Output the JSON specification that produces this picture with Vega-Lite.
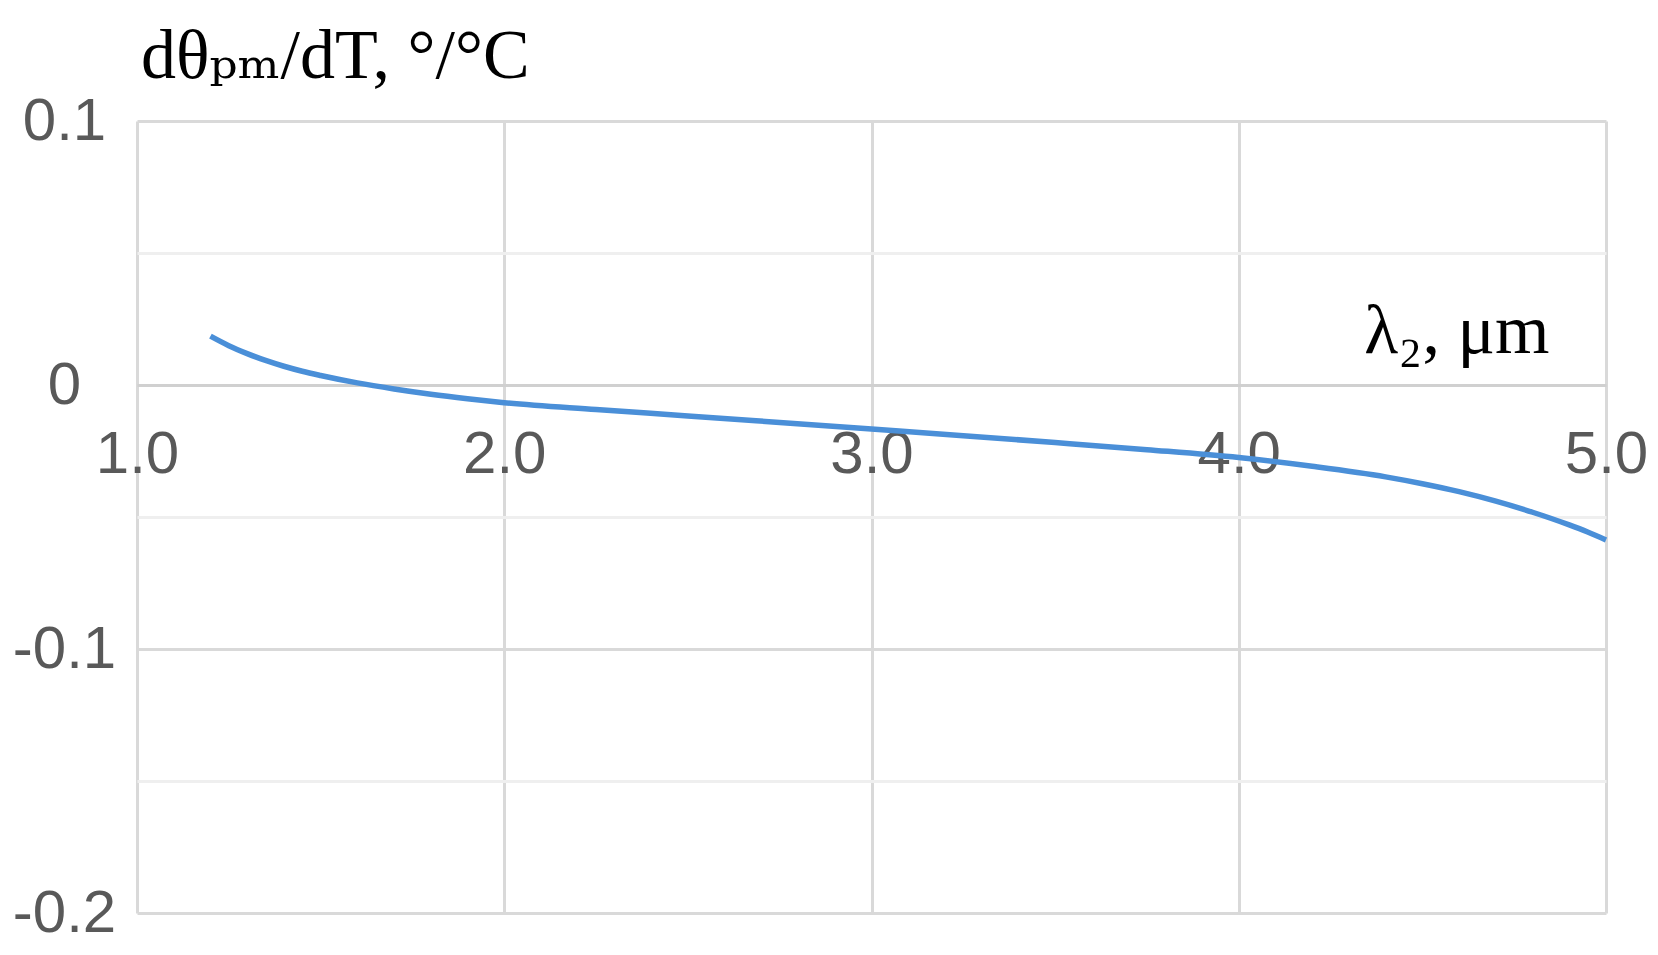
{
  "$schema": "https://vega.github.io/schema/vega-lite/v6.json",
  "autosize": {"type": "none"},
  "padding": {"left": 137, "top": 121, "right": 52, "bottom": 42},
  "width": 1469,
  "height": 792,
  "background": "white",
  "title": {
    "text": "dθₚₘ/dT, °/°C",
    "anchor": "start",
    "frame": "group",
    "font": "Liberation Serif, DejaVu Serif, serif",
    "fontSize": 70,
    "fontWeight": "normal",
    "color": "#000000",
    "offset": -2,
    "dx": 4
  },
  "config": {
    "view": {"stroke": null},
    "axis": {"labelFont": "Liberation Sans", "labelFontSize": 60, "labelColor": "#595959"}
  },
  "data": {
    "values": [
      {"lambda": 1.20, "v": 0.0185},
      {"lambda": 1.25, "v": 0.0149},
      {"lambda": 1.30, "v": 0.0119},
      {"lambda": 1.35, "v": 0.0093},
      {"lambda": 1.40, "v": 0.0071},
      {"lambda": 1.45, "v": 0.0052},
      {"lambda": 1.50, "v": 0.0036},
      {"lambda": 1.60, "v": 0.0008},
      {"lambda": 1.70, "v": -0.0015},
      {"lambda": 1.80, "v": -0.0035},
      {"lambda": 1.90, "v": -0.0052},
      {"lambda": 2.00, "v": -0.0067},
      {"lambda": 2.25, "v": -0.0093},
      {"lambda": 2.50, "v": -0.0117},
      {"lambda": 2.75, "v": -0.0142},
      {"lambda": 3.00, "v": -0.0167},
      {"lambda": 3.25, "v": -0.0192},
      {"lambda": 3.50, "v": -0.0218},
      {"lambda": 3.75, "v": -0.0245},
      {"lambda": 4.00, "v": -0.0275},
      {"lambda": 4.20, "v": -0.0308},
      {"lambda": 4.40, "v": -0.0348},
      {"lambda": 4.50, "v": -0.0374},
      {"lambda": 4.60, "v": -0.0404},
      {"lambda": 4.70, "v": -0.0440},
      {"lambda": 4.80, "v": -0.0482},
      {"lambda": 4.90, "v": -0.0530},
      {"lambda": 4.95, "v": -0.0557},
      {"lambda": 5.00, "v": -0.0587}
    ]
  },
  "mark": {"type": "line", "color": "#4a8fd8", "strokeWidth": 5.5, "interpolate": "monotone"},
  "encoding": {
    "x": {
      "field": "lambda",
      "type": "quantitative",
      "scale": {"domain": [1, 5], "nice": false, "zero": false},
      "axis": {
        "values": [1, 2, 3, 4, 5],
        "format": ".1f",
        "orient": "bottom",
        "offset": -528,
        "ticks": false,
        "tickSize": 0,
        "labelFlush": false,
        "labelPadding": 40,
        "labelBaseline": "top",
        "domain": true,
        "domainColor": "#d0d0d0",
        "domainWidth": 3,
        "grid": true,
        "gridColor": "#d9d9d9",
        "gridWidth": 3,
        "title": "λ₂, μm",
        "titleFont": "Liberation Serif",
        "titleFontSize": 70,
        "titleFontWeight": "normal",
        "titleColor": "#000000",
        "titleAlign": "right",
        "titleAnchor": "end",
        "titleBaseline": "alphabetic",
        "titleX": 1412,
        "titleY": -33
      }
    },
    "y": {
      "field": "v",
      "type": "quantitative",
      "scale": {"domain": [-0.2, 0.1], "nice": false, "zero": false},
      "axis": {
        "values": [-0.2, -0.15, -0.1, -0.05, 0, 0.05, 0.1],
        "labelExpr": "abs(round(datum.value*100)) % 10 == 0 ? (abs(datum.value) < 1e-9 ? '0' : toString(round(datum.value*10)/10)) : ''",
        "ticks": false,
        "tickSize": 0,
        "domain": false,
        "labelFlush": false,
        "labelAlign": "center",
        "labelBaseline": "middle",
        "labelPadding": 73,
        "grid": true,
        "gridWidth": 3,
        "gridColor": {"condition": {"test": "abs(round(datum.value*100)) % 10 == 5", "value": "#efefef"}, "value": "#d9d9d9"},
        "title": null
      }
    }
  }
}
